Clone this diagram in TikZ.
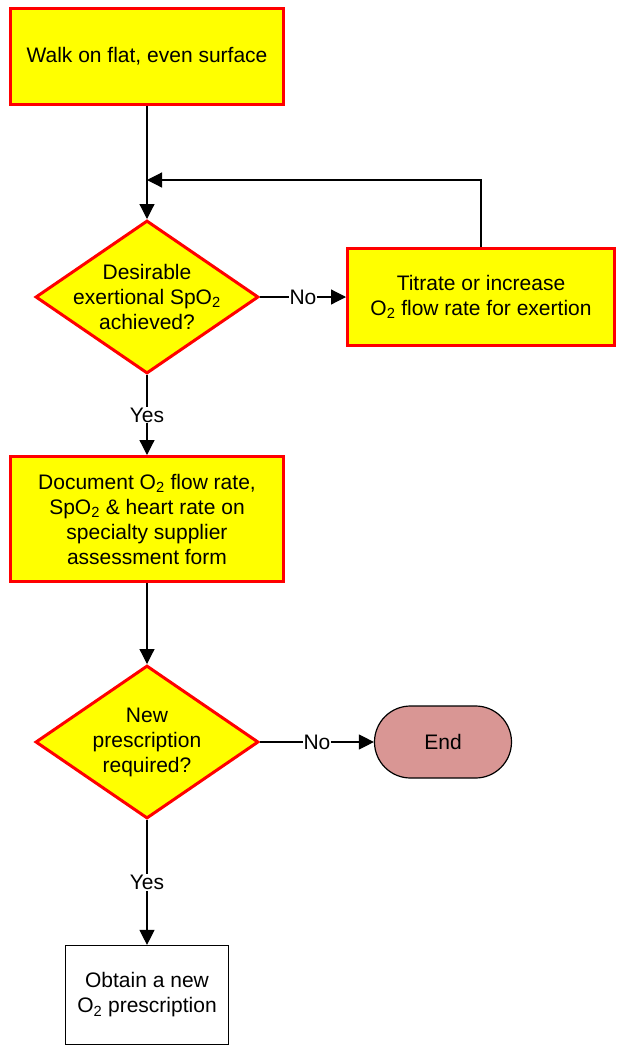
\documentclass[tikz,border=0pt]{standalone}
\definecolor{stepyellow}{RGB}{255,255,0}
\definecolor{stepred}{RGB}{255,0,0}
\definecolor{endpink}{RGB}{217,150,148}
\usepackage{fontspec}
\setmainfont{Liberation Sans}
\usepackage{tikz}
\usetikzlibrary{arrows.meta, positioning, shapes.geometric}

\tikzset{
  stepbox/.style={draw=stepred, fill=stepyellow, line width=3pt, align=center},
  decision/.style={diamond, draw=stepred, fill=stepyellow, line width=3pt,
    minimum width=223pt, minimum height=153pt, inner sep=0pt},
  plainbox/.style={draw=black, fill=white, line width=1.2pt, align=center},
  endbox/.style={draw=black, fill=endpink, line width=1.2pt, rounded corners=36pt},
  flow/.style={line width=1.2pt, -{Triangle[length=15pt, width=15pt]}},
  answer/.style={fill=white, inner sep=1pt}
}

\begin{document}
\begin{tikzpicture}[x=1pt, y=-1pt, font=\fontsize{21}{25}\selectfont]
  \useasboundingbox (0,0) rectangle (616,1047);

  \node[stepbox, minimum width=273pt, minimum height=96pt] (walk) at (147,56)
    {Walk on flat, even surface};

  \node[decision] (spo2) at (147,297) {};
  \node[align=center] (spo2text) at (spo2.center)
    {Desirable\\ exertional SpO\textsubscript{2}\\ achieved?};

  \node[stepbox, minimum width=267pt, minimum height=97pt] (titrate) at (481,297)
    {Titrate or increase\\ O\textsubscript{2} flow rate for exertion};

  \node[stepbox, minimum width=273pt, minimum height=125pt] (document) at (147,519)
    {Document O\textsubscript{2} flow rate,\\ SpO\textsubscript{2} \& heart rate on\\
     specialty supplier\\ assessment form};

  \node[decision] (newrx) at (147,742) {};
  \node[align=center] (newrxtext) at (newrx.center)
    {New\\ prescription\\ required?};

  \node[endbox, minimum width=137pt, minimum height=72pt] (end) at (443,742) {End};

  \node[plainbox, minimum width=163pt, minimum height=99pt] (obtain) at (147,995)
    {Obtain a new\\ O\textsubscript{2} prescription};

  % loop back from titration
  \coordinate (join) at (147,180);
  \draw[line width=1.2pt] (walk.south) -- (join);
  \draw[flow] (join) -- (spo2.north);
  \draw[flow] (titrate.north) |- (join);

  \draw[flow] (spo2.east) -- node[answer] {No} (titrate.west);
  \draw[flow] (spo2.south) -- node[answer] {Yes} (document.north);
  \draw[flow] (document.south) -- (newrx.north);
  \draw[flow] (newrx.east) -- node[answer] {No} (end.west);
  \draw[flow] (newrx.south) -- node[answer] {Yes} (obtain.north);
\end{tikzpicture}
\end{document}
